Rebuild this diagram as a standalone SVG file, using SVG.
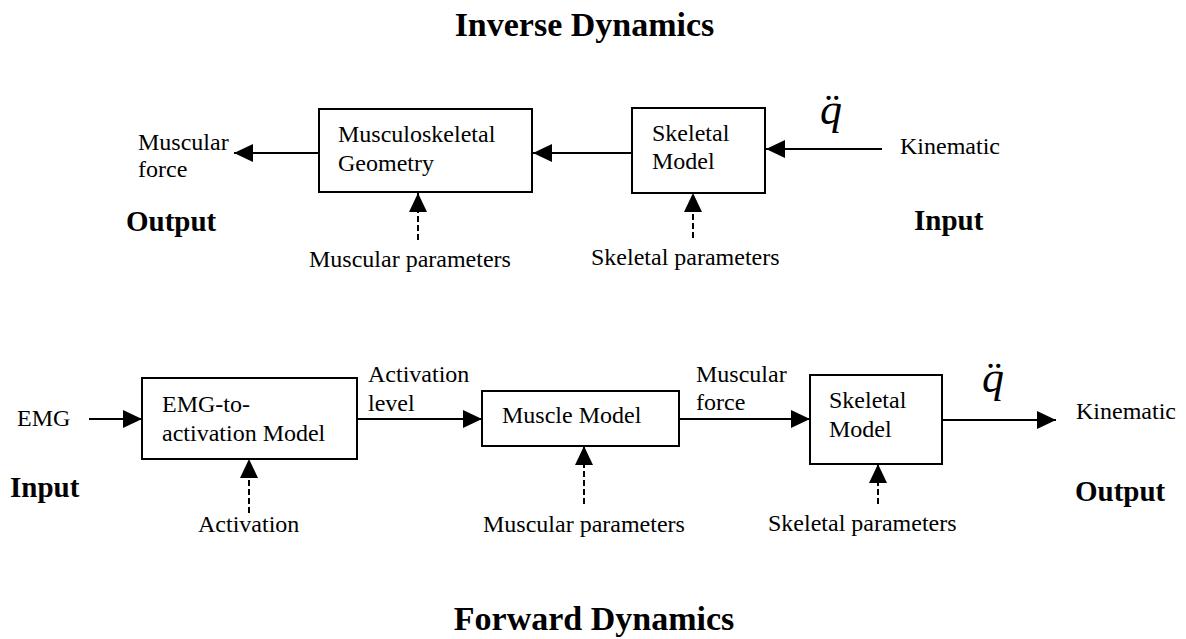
<svg xmlns="http://www.w3.org/2000/svg" width="1186" height="639" viewBox="0 0 1186 639">
<style>
.box{fill:#fff;stroke:#000;stroke-width:2}
.t{font-family:"Liberation Serif",serif;font-size:24px;font-weight:normal;font-style:normal;fill:#000}
.b{font-family:"Liberation Serif",serif;font-size:29px;font-weight:bold;fill:#000}
.title{font-family:"Liberation Serif",serif;font-size:34px;font-weight:bold;fill:#000}
.q{font-family:"Liberation Serif",serif;font-size:44px;font-style:italic;fill:#000}
.c{fill:none;stroke:#000;stroke-width:2}
.d{fill:none;stroke:#000;stroke-width:2;stroke-dasharray:6 3}
</style>
<defs>
<marker id="ah" viewBox="0 0 19 18" refX="19" refY="9" markerWidth="19" markerHeight="18" markerUnits="userSpaceOnUse" orient="auto">
<path d="M0,0 L19,9 L0,18 z" fill="#000"/>
</marker>
</defs>
<rect width="1186" height="639" fill="#fff"/>
<text class="title" x="584.5" y="36" text-anchor="middle">Inverse Dynamics</text>
<text class="title" x="594" y="630" text-anchor="middle">Forward Dynamics</text>
<g id="connectors">
<line class="c" x1="882" y1="149" x2="766" y2="149" marker-end="url(#ah)"/>
<line class="c" x1="632" y1="153" x2="533" y2="153" marker-end="url(#ah)"/>
<line class="c" x1="319" y1="153" x2="234" y2="153" marker-end="url(#ah)"/>
<line class="d" x1="418" y1="240" x2="418" y2="193" marker-end="url(#ah)"/>
<line class="d" x1="693" y1="238" x2="693" y2="193" marker-end="url(#ah)"/>
<line class="c" x1="89" y1="419" x2="142" y2="419" marker-end="url(#ah)"/>
<line class="c" x1="357" y1="419" x2="482" y2="419" marker-end="url(#ah)"/>
<line class="c" x1="679" y1="419" x2="810" y2="419" marker-end="url(#ah)"/>
<line class="c" x1="942" y1="420" x2="1056" y2="420" marker-end="url(#ah)"/>
<line class="d" x1="249" y1="513" x2="249" y2="459" marker-end="url(#ah)"/>
<line class="d" x1="584" y1="504" x2="584" y2="446" marker-end="url(#ah)"/>
<line class="d" x1="878" y1="504" x2="878" y2="464" marker-end="url(#ah)"/>
</g>
<g id="musculoskeletal-geometry">
<rect class="box" x="319" y="109" width="213" height="83"/>
<text class="t" x="338" y="142">Musculoskeletal</text>
<text class="t" x="338" y="171">Geometry</text>
</g>
<g id="skeletal-model-inverse">
<rect class="box" x="632" y="108" width="133" height="85"/>
<text class="t" x="652" y="141">Skeletal</text>
<text class="t" x="652" y="169">Model</text>
</g>
<g id="inverse-labels">
<text class="t" x="138" y="150">Muscular</text>
<text class="t" x="138" y="177">force</text>
<text class="b" x="126" y="231">Output</text>
<text class="t" x="309" y="267">Muscular parameters</text>
<text class="t" x="591" y="265">Skeletal parameters</text>
<text class="t" x="900" y="154">Kinematic</text>
<text class="b" x="914" y="230">Input</text>
<text class="q" x="820" y="124">q&#776;</text>
</g>
<g id="emg-to-activation">
<rect class="box" x="142" y="378" width="215" height="81"/>
<text class="t" x="162" y="412">EMG-to-</text>
<text class="t" x="162" y="441">activation Model</text>
</g>
<g id="muscle-model">
<rect class="box" x="482" y="391" width="197" height="55"/>
<text class="t" x="502" y="423">Muscle Model</text>
</g>
<g id="skeletal-model-forward">
<rect class="box" x="810" y="375" width="132" height="89"/>
<text class="t" x="829" y="408">Skeletal</text>
<text class="t" x="829" y="437">Model</text>
</g>
<g id="forward-labels">
<text class="t" x="17" y="426">EMG</text>
<text class="b" x="10" y="497">Input</text>
<text class="t" x="368" y="382">Activation</text>
<text class="t" x="368" y="411">level</text>
<text class="t" x="198" y="532">Activation</text>
<text class="t" x="696" y="382">Muscular</text>
<text class="t" x="696" y="410">force</text>
<text class="t" x="483" y="532">Muscular parameters</text>
<text class="t" x="768" y="531">Skeletal parameters</text>
<text class="q" x="982" y="392">q&#776;</text>
<text class="t" x="1076" y="419">Kinematic</text>
<text class="b" x="1075" y="501">Output</text>
</g>
</svg>
